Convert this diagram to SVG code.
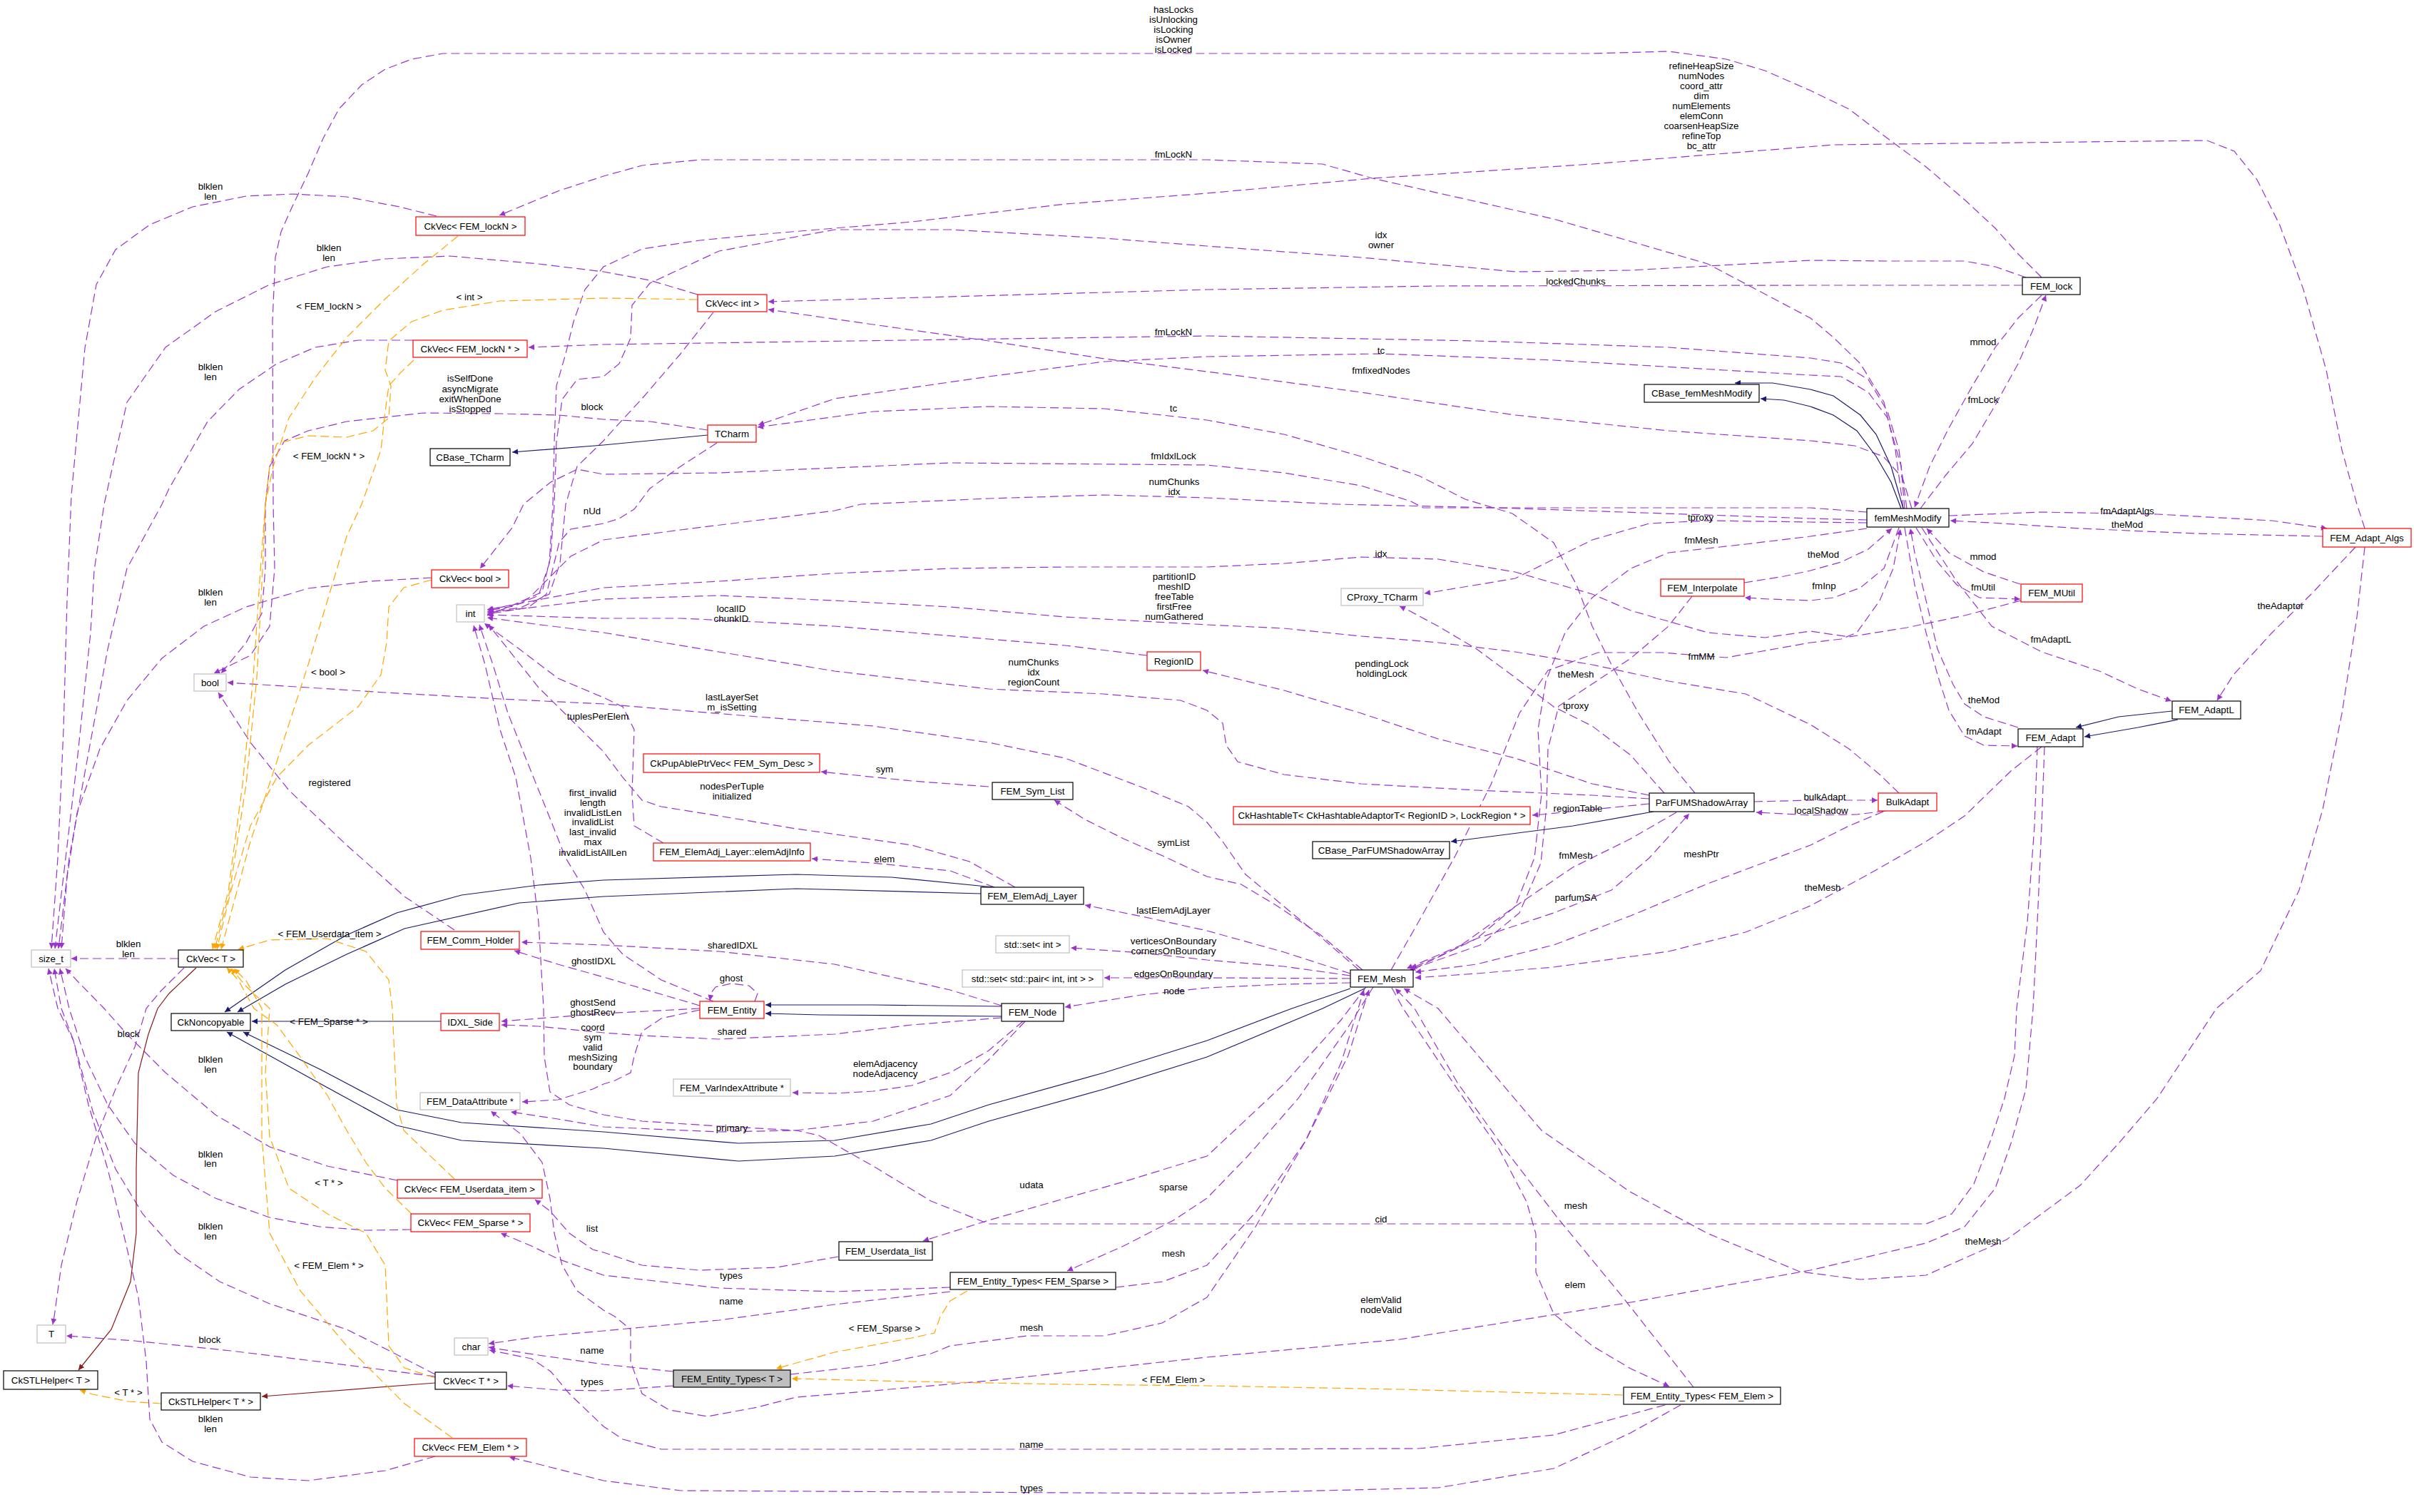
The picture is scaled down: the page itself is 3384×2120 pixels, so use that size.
<svg xmlns="http://www.w3.org/2000/svg" width="3384" height="2120" viewBox="0 0 3384 2120">
<style>
.e{fill:none;stroke:#9a32cd;stroke-width:1.2;stroke-dasharray:12,6;marker-end:url(#ap)}
.i{fill:none;stroke:#191970;stroke-width:1.2;marker-end:url(#ab)}
.t{fill:none;stroke:#ffa500;stroke-width:1.2;stroke-dasharray:12,6;marker-end:url(#ao)}
.r{fill:none;stroke:#8b1a1a;stroke-width:1.2;marker-end:url(#ar)}
text{font-family:"Liberation Sans",Arial,sans-serif;font-size:13.3px;fill:#000;text-anchor:middle}
.n rect{fill:#fff;stroke:#000;stroke-width:1.2}
.rd rect{stroke:#ff0000}
.gy rect{stroke:#bfbfbf}
.cur rect{fill:#bfbfbf}
</style>
<defs>
<marker id="ap" viewBox="0 0 10 10" refX="10" refY="5" markerWidth="12" markerHeight="8" markerUnits="userSpaceOnUse" orient="auto"><path d="M0,0L10,5L0,10z" fill="#9a32cd"/></marker>
<marker id="ab" viewBox="0 0 10 10" refX="10" refY="5" markerWidth="12" markerHeight="8" markerUnits="userSpaceOnUse" orient="auto"><path d="M0,0L10,5L0,10z" fill="#191970"/></marker>
<marker id="ao" viewBox="0 0 10 10" refX="10" refY="5" markerWidth="12" markerHeight="8" markerUnits="userSpaceOnUse" orient="auto"><path d="M0,0L10,5L0,10z" fill="#ffa500"/></marker>
<marker id="ar" viewBox="0 0 10 10" refX="10" refY="5" markerWidth="12" markerHeight="8" markerUnits="userSpaceOnUse" orient="auto"><path d="M0,0L10,5L0,10z" fill="#8b1a1a"/></marker>
</defs>
<rect width="3384" height="2120" fill="#fff"/>
<g id="edges">
<polyline class="e" points="2668,713 2657,631 2641,564 2608,510 2570,473 2538,446 2394,370 2178,307 1924,250 1854,230 1692,224 981,224 900,232 846,247 782,268 700,302"/>
<text x="1645" y="221">fmLockN</text>
<polyline class="e" points="3315,741 3304,707 3283,631 3261,519 3229,406 3196,316 3164,252 3132,212 3094,197 2570,203 2232,230 1924,250 1692,271 1494,286 1278,311 1062,329 981,337 900,349 846,374 820,406 804,451 793,496 780,541 777,620 775,707 770,790 755,835 720,850 684,856"/>
<text x="2385" y="97">refineHeapSize</text><text x="2385" y="111">numNodes</text><text x="2385" y="125">coord_attr</text><text x="2385" y="139">dim</text><text x="2385" y="153">numElements</text><text x="2385" y="167">elemConn</text><text x="2385" y="181">coarsenHeapSize</text><text x="2385" y="195">refineTop</text><text x="2385" y="209">bc_attr</text>
<polyline class="e" points="2862,389 2829,356 2797,320 2754,280 2700,234 2646,194 2592,153 2538,127 2474,99 2420,83 2339,72 2232,75 621,75 577,83 540,97 507,119 475,153 453,194 432,243 410,289 394,325 386,361 382,450 383,707 385,797 378,878 351,919 300,944"/>
<text x="1645" y="18">hasLocks</text><text x="1645" y="32">isUnlocking</text><text x="1645" y="46">isLocking</text><text x="1645" y="60">isOwner</text><text x="1645" y="74">isLocked</text>
<polyline class="e" points="612,303 560,290 486,276 410,272 345,275 270,290 210,315 162,350 135,399 119,488 100,695 94,842 89,1023 81,1203 72,1330"/>
<text x="295" y="266">blklen</text><text x="295" y="280">len</text>
<polyline class="e" points="978,413 911,393 846,381 755,370 631,359 540,363 459,374 378,399 302,437 232,487 178,564 146,707 132,800 127,887 108,1068 92,1203 77,1330"/>
<text x="461" y="352">blklen</text><text x="461" y="366">len</text>
<polyline class="e" points="579,477 502,477 442,487 388,510 335,546 291,591 237,685 227,707 178,797 151,910 130,1023 97,1203 82,1330"/>
<text x="295" y="519">blklen</text><text x="295" y="533">len</text>
<polyline class="e" points="605,810 518,815 432,825 345,851 286,878 227,923 178,982 140,1050 108,1140 94,1230 86,1330"/>
<text x="295" y="835">blklen</text><text x="295" y="849">len</text>
<polyline class="e" points="250,1344 100,1344"/>
<text x="180" y="1328">blklen</text><text x="180" y="1342">len</text>
<polyline class="e" points="557,1655 459,1635 378,1608 302,1563 232,1504 178,1450 146,1414 108,1375 92,1358"/>
<text x="295" y="1490">blklen</text><text x="295" y="1504">len</text>
<polyline class="e" points="576,1724 513,1725 448,1720 378,1707 302,1680 243,1648 189,1603 151,1549 119,1482 97,1414 84,1358"/>
<text x="295" y="1623">blklen</text><text x="295" y="1636">len</text>
<polyline class="e" points="610,1927 540,1891 486,1864 432,1846 378,1828 308,1797 248,1756 200,1702 162,1639 130,1558 103,1459 86,1414 76,1358"/>
<text x="295" y="1724">blklen</text><text x="295" y="1738">len</text>
<polyline class="e" points="610,2042 540,2062 432,2076 351,2071 270,2049 227,2022 210,1990 205,1909 194,1819 173,1729 151,1639 124,1549 103,1459 81,1414 68,1358"/>
<text x="295" y="1994">blklen</text><text x="295" y="2008">len</text>
<polyline class="e" points="258,1357 225,1390 205,1414 189,1468 162,1527 135,1594 108,1684 86,1774 76,1846 74,1857"/>
<text x="180" y="1454">block</text>
<polyline class="e" points="610,1930 486,1914 324,1894 189,1880 93,1873"/>
<text x="294" y="1883">block</text>
<polyline class="e" points="944,1943 846,1950 782,1949 711,1943"/>
<text x="830" y="1942">types</text>
<polyline class="e" points="944,1923 846,1913 755,1900 696,1891 685,1889"/>
<text x="830" y="1898">name</text>
<polyline class="e" points="1332,1811 1170,1829 1008,1851 846,1866 755,1874 685,1884"/>
<text x="1025" y="1829">name</text>
<polyline class="e" points="1332,1805 1170,1811 1008,1806 846,1788 782,1765 745,1747 702,1729"/>
<text x="1025" y="1793">types</text>
<polyline class="e" points="2334,1970 2178,2012 1989,2031 1692,2032 927,2032 873,2018 846,2000 798,1954 772,1923 745,1905 686,1893"/>
<text x="1446" y="2030">name</text>
<polyline class="e" points="2356,1970 2286,2009 2178,2059 2016,2086 1692,2094 954,2090 846,2076 755,2053 714,2043"/>
<text x="1446" y="2091">types</text>
<polyline class="e" points="1951,1385 1967,1414 2043,1527 2102,1612 2140,1685 2153,1730 2153,1784 2178,1842 2232,1887 2286,1919 2340,1944"/>
<text x="2208" y="1806">elem</text>
<polyline class="e" points="2374,1945 2275,1819 2183,1707 2107,1608 2043,1518 1983,1414 1956,1386"/>
<text x="2209" y="1695">mesh</text>
<polyline class="e" points="3315,767 3304,865 3283,1000 3256,1135 3223,1248 3169,1361 3107,1414 3024,1540 2970,1603 2916,1662 2813,1738 2700,1788 2608,1794 2523,1783 2393,1729 2285,1671 2161,1585 2016,1414 1968,1386"/>
<text x="2780" y="1745">theMesh</text>
<polyline class="e" points="2856,1047 2852,1158 2842,1293 2827,1414 2824,1480 2810,1540 2790,1600 2767,1660 2736,1702 2700,1716 1386,1716 1305,1684 1224,1635 1148,1592 1116,1585 1008,1579 900,1572 846,1563 798,1549 771,1531 763,1482 762,1414 755,1293 744,1203 723,1090 701,1023 680,932 664,877"/>
<text x="1936" y="1714">cid</text>
<polyline class="e" points="2866,1047 2862,1158 2856,1293 2850,1414 2840,1527 2819,1603 2797,1666 2754,1720 2700,1743 2538,1781 2286,1826 1962,1878 1692,1903 1386,1936 1224,1950 1116,1959 1062,1973 992,1986 938,1977 900,1954 884,1909 884,1864 862,1846 846,1837 809,1810 788,1774 777,1729 771,1680 760,1630 730,1590 688,1558"/>
<text x="1936" y="1827">elemValid</text><text x="1936" y="1841">nodeValid</text>
<polyline class="e" points="2673,713 2662,631 2646,577 2619,532 2581,509 2538,502 2339,487 2070,478 1692,471 846,483 741,487"/>
<text x="1645" y="470">fmLockN</text>
<polyline class="e" points="2835,400 2538,400 2016,401 1692,406 1077,423"/>
<text x="2209" y="399">lockedChunks</text>
<polyline class="e" points="2680,713 2667,670 2640,640 2600,625 2538,618 2340,604 2124,582 1908,550 1692,521 1548,503 1386,478 1224,455 1077,434"/>
<text x="1936" y="524">fmfixedNodes</text>
<polyline class="e" points="2840,389 2797,374 2754,366 2646,366 2538,365 2286,379 2124,381 1908,361 1692,345 1548,334 1332,322 1170,322 1008,352 911,397 886,428 884,474 868,510 846,528 809,532 788,560 780,620 777,707 772,780 760,830 720,848 683,855"/>
<text x="1936" y="334">idx</text><text x="1936" y="348">owner</text>
<polyline class="e" points="1000,438 954,496 900,559 862,600 846,618 809,654 793,707 785,790 770,833 730,852 683,858"/>
<text x="830" y="575">block</text>
<polyline class="e" points="992,603 911,591 846,588 783,582 702,580 594,579 486,591 432,604 399,618 378,654 372,707 372,797 367,860 345,901 310,944"/>
<text x="659" y="535">isSelfDone</text><text x="659" y="550">asyncMigrate</text><text x="659" y="564">exitWhenDone</text><text x="659" y="578">isStopped</text>
<polyline class="e" points="1005,621 954,654 911,685 889,714 868,727 846,734 800,742 784,760 775,797 766,833 740,852 683,861"/>
<text x="830" y="721">nUd</text>
<polyline class="e" points="2617,718 2538,712 1995,712 1978,703 1908,681 1800,663 1692,652 1332,649 1008,663 846,665 809,658 772,676 734,707 718,740 673,797"/>
<text x="1645" y="644">fmIdxlLock</text>
<polyline class="e" points="2617,729 2538,727 2100,712 1875,707 1692,698 1547,694 1386,699 1207,707 1170,716 954,743 846,757 800,780 780,800 740,840 683,863"/>
<text x="1646" y="680">numChunks</text><text x="1646" y="694">idx</text>
<polyline class="e" points="2670,713 2665,654 2646,586 2619,550 2581,528 2538,526 2178,505 1935,496 1692,500 1548,507 1386,528 1170,559 1063,596"/>
<text x="1936" y="496">tc</text>
<polyline class="e" points="2376,1112 2340,1068 2297,1000 2259,932 2232,878 2210,820 2178,761 2120,720 2054,700 1989,667 1908,640 1800,609 1692,589 1548,573 1386,570 1224,577 1062,599"/>
<text x="1645" y="577">tc</text>
<polyline class="e" points="2333,1112 2286,1059 2232,1018 2178,991 2124,950 2070,910 2016,878 1975,856 1962,850"/>
<text x="2209" y="994">tproxy</text>
<polyline class="e" points="2617,733 2538,732 2394,730 2312,734 2232,757 2178,784 2124,811 2016,829 1997,832"/>
<text x="2384" y="730">tproxy</text>
<polyline class="e" points="2617,741 2538,752 2447,763 2339,775 2286,797 2232,838 2194,887 2167,955 2156,1023 2161,1113 2151,1203 2124,1271 2070,1316 1972,1358"/>
<text x="2385" y="762">fmMesh</text>
<polyline class="e" points="2372,836 2339,878 2286,923 2232,959 2185,990 2170,1050 2168,1130 2160,1210 2130,1280 2075,1325 1976,1360"/>
<text x="2209" y="950">theMesh</text>
<polyline class="e" points="1950,1360 1990,1290 2040,1200 2090,1100 2130,1000 2170,940 2240,915 2330,915 2420,922 2538,901 2581,896 2603,887 2635,842 2654,797 2664,742"/>
<text x="2385" y="925">fmMM</text>
<polyline class="e" points="2350,1139 2286,1176 2205,1216 2124,1271 2043,1329 1978,1358"/>
<text x="2209" y="1204">fmMesh</text>
<polyline class="e" points="1983,1358 2070,1316 2178,1280 2259,1248 2312,1203 2368,1141"/>
<text x="2209" y="1263">parfumSA</text>
<polyline class="e" points="2640,1138 2592,1158 2538,1185 2394,1239 2286,1284 2178,1325 2070,1352 1984,1363"/>
<text x="2385" y="1202">meshPtr</text>
<polyline class="e" points="2862,1047 2819,1081 2754,1144 2700,1180 2619,1226 2538,1270 2447,1307 2339,1334 2178,1356 2070,1365 1984,1371"/>
<text x="2555" y="1249">theMesh</text>
<polyline class="e" points="2643,1137 2603,1142 2538,1143 2462,1139"/>
<text x="2553" y="1141">localShadow</text>
<polyline class="e" points="2459,1124 2538,1122 2632,1122"/>
<text x="2558" y="1122">bulkAdapt</text>
<polyline class="e" points="2662,1112 2635,1086 2592,1050 2538,1016 2447,973 2339,955 2232,932 2124,914 2016,901 1908,892 1800,881 1692,876 1493,865 1332,851 1170,842 1008,835 846,840 760,850 683,859"/>
<text x="1646" y="813">partitionID</text><text x="1646" y="827">meshID</text><text x="1646" y="841">freeTable</text><text x="1646" y="855">firstFree</text><text x="1646" y="869">numGathered</text>
<polyline class="e" points="2833,842 2754,863 2673,880 2592,893 2538,885 2474,894 2394,887 2286,856 2232,833 2124,802 2016,784 1908,781 1800,790 1692,795 1493,795 1332,797 1170,804 1008,815 846,824 760,840 683,855"/>
<text x="1936" y="781">idx</text>
<polyline class="e" points="2312,1115 2232,1099 2124,1063 2016,1036 1908,1000 1800,968 1686,940"/>
<text x="1937" y="935">pendingLock</text><text x="1937" y="949">holdingLock</text>
<polyline class="e" points="1608,919 1493,905 1386,896 1278,887 1170,878 1062,872 954,867 846,867 683,862"/>
<text x="1025" y="858">localID</text><text x="1025" y="872">chunkID</text>
<polyline class="e" points="2312,1120 2232,1115 2070,1108 1908,1099 1800,1086 1735,1068 1719,1045 1714,1014 1692,996 1655,982 1547,973 1386,966 1170,941 1008,914 846,887 750,875 683,866"/>
<text x="1449" y="933">numChunks</text><text x="1449" y="947">idx</text><text x="1449" y="961">regionCount</text>
<polyline class="e" points="2312,1127 2232,1135 2161,1142 2148,1143"/>
<text x="2212" y="1138">regionTable</text>
<polyline class="e" points="2445,817 2501,808 2538,800 2581,788 2619,770 2652,741"/>
<text x="2556" y="782">theMod</text>
<polyline class="e" points="2662,740 2641,797 2608,824 2570,838 2538,842 2480,840 2446,838"/>
<text x="2557" y="826">fmInp</text>
<polyline class="e" points="2832,819 2781,802 2732,775 2701,741"/>
<text x="2780" y="785">mmod</text>
<polyline class="e" points="2686,740 2716,788 2743,820 2775,838 2832,840"/>
<text x="2780" y="828">fmUtil</text>
<polyline class="e" points="2694,740 2743,815 2792,878 2862,914 2943,941 2997,966 3044,983"/>
<text x="2875" y="901">fmAdaptL</text>
<polyline class="e" points="2829,1020 2781,1005 2754,987 2738,960 2716,910 2700,842 2684,775 2678,741"/>
<text x="2781" y="986">theMod</text>
<polyline class="e" points="2670,740 2684,820 2700,887 2716,946 2732,996 2754,1032 2781,1045 2828,1046"/>
<text x="2781" y="1030">fmAdapt</text>
<polyline class="e" points="2732,723 2862,718 3024,721 3185,730 3262,741"/>
<text x="2982" y="721">fmAdaptAlgs</text>
<polyline class="e" points="3256,752 3078,748 2916,741 2808,734 2734,730"/>
<text x="2982" y="740">theMod</text>
<polyline class="e" points="3302,767 3240,833 3185,887 3131,946 3108,982"/>
<text x="3197" y="854">theAdaptor</text>
<polyline class="e" points="2862,414 2829,446 2797,487 2765,541 2732,600 2705,654 2684,711"/>
<text x="2780" y="484">mmod</text>
<polyline class="e" points="2692,713 2727,667 2765,622 2797,568 2829,510 2851,460 2868,414"/>
<text x="2780" y="565">fmLock</text>
<polyline class="e" points="1910,1360 1850,1310 1790,1270 1740,1240 1692,1229 1630,1200 1575,1176 1521,1149 1478,1122"/>
<text x="1645" y="1186">symList</text>
<polyline class="e" points="1893,1365 1800,1335 1692,1305 1601,1285 1521,1269"/>
<text x="1645" y="1281">lastElemAdjLayer</text>
<polyline class="e" points="1893,1368 1800,1355 1692,1346 1601,1336 1501,1329"/>
<text x="1645" y="1324">verticesOnBoundary</text><text x="1645" y="1338">cornersOnBoundary</text>
<polyline class="e" points="1893,1372 1692,1371 1548,1371"/>
<text x="1645" y="1370">edgesOnBoundary</text>
<polyline class="e" points="1893,1378 1800,1380 1692,1385 1600,1395 1493,1412"/>
<text x="1646" y="1394">node</text>
<polyline class="e" points="1915,1384 1880,1430 1800,1520 1692,1621 1575,1657 1494,1680 1386,1711 1294,1740"/>
<text x="1446" y="1666">udata</text>
<polyline class="e" points="1925,1384 1890,1440 1820,1540 1750,1620 1692,1680 1645,1711 1575,1747 1496,1782"/>
<text x="1645" y="1669">sparse</text>
<polyline class="e" points="1564,1805 1630,1797 1692,1774 1760,1700 1830,1600 1890,1480 1919,1388"/>
<text x="1645" y="1762">mesh</text>
<polyline class="e" points="1108,1927 1224,1914 1305,1898 1332,1887 1440,1873 1548,1873 1629,1855 1692,1819 1760,1720 1830,1600 1880,1490 1912,1388"/>
<text x="1446" y="1866">mesh</text>
<polyline class="e" points="1905,1360 1854,1316 1800,1271 1746,1226 1714,1180 1692,1153 1666,1131 1601,1104 1493,1063 1386,1041 1224,1018 1062,1005 954,996 846,987 701,980 540,971 432,964 319,957"/>
<text x="1026" y="982">lastLayerSet</text><text x="1026" y="996">m_isSetting</text>
<polyline class="e" points="1386,1103 1278,1095 1151,1082"/>
<text x="1240" y="1083">sym</text>
<polyline class="e" points="1394,1244 1332,1221 1224,1210 1138,1204"/>
<text x="1240" y="1209">elem</text>
<polyline class="e" points="1423,1244 1359,1208 1278,1185 1116,1162 1008,1144 927,1131 900,1122 873,1090 846,1054 755,964 685,876"/>
<text x="1026" y="1107">nodesPerTuple</text><text x="1026" y="1121">initialized</text>
<polyline class="e" points="930,1182 889,1158 886,1113 889,1023 873,991 846,978 782,951 728,910 679,874"/>
<text x="838" y="1009">tuplesPerElem</text>
<polyline class="e" points="1000,1404 927,1374 873,1338 846,1307 820,1248 793,1203 766,1135 739,1068 712,1000 691,932 672,876"/>
<text x="831" y="1116">first_invalid</text><text x="831" y="1130">length</text><text x="831" y="1144">invalidListLen</text><text x="831" y="1157">invalidList</text><text x="831" y="1171">last_invalid</text><text x="831" y="1185">max</text><text x="831" y="1200">invalidListAllLen</text>
<polyline class="e" points="637,1304 567,1257 486,1185 405,1108 351,1041 306,971"/>
<text x="462" y="1102">registered</text>
<polyline class="e" points="981,1410 930,1395 880,1380 846,1370 782,1352 721,1333"/>
<text x="832" y="1352">ghostIDXL</text>
<polyline class="e" points="1404,1410 1332,1388 1170,1352 1008,1334 846,1325 731,1321"/>
<text x="1027" y="1330">sharedIDXL</text>
<polyline class="e" points="1058,1404 1062,1393 1050,1382 1025,1379 1003,1384 997,1392 995,1403"/>
<text x="1025" y="1376">ghost</text>
<polyline class="e" points="981,1414 846,1421 703,1432"/>
<text x="831" y="1410">ghostSend</text><text x="831" y="1424">ghostRecv</text>
<polyline class="e" points="1404,1427 1278,1437 1170,1450 1008,1457 900,1452 846,1448 755,1439 703,1437"/>
<text x="1026" y="1451">shared</text>
<polyline class="e" points="981,1416 927,1428 900,1446 889,1481 884,1504 862,1515 846,1520 831,1527 782,1542 732,1545"/>
<text x="831" y="1445">coord</text><text x="831" y="1459">sym</text><text x="831" y="1473">valid</text><text x="831" y="1487">meshSizing</text><text x="831" y="1500">boundary</text>
<polyline class="e" points="1434,1432 1386,1473 1332,1504 1278,1522 1224,1530 1170,1533 1111,1532"/>
<text x="1241" y="1496">elemAdjacency</text><text x="1241" y="1510">nodeAdjacency</text>
<polyline class="e" points="1437,1432 1386,1486 1332,1536 1224,1572 1116,1585 1008,1587 846,1580 782,1569 716,1559"/>
<text x="1026" y="1586">primary</text>
<polyline class="e" points="1175,1762 1089,1777 981,1781 900,1774 846,1756 831,1752 798,1729 771,1698 750,1682"/>
<text x="830" y="1727">list</text>
<polyline class="i" points="992,610 846,624 718,634"/>
<polyline class="i" points="2668,713 2651,654 2630,609 2608,582 2570,555 2538,546 2485,537 2432,537"/>
<polyline class="i" points="2665,713 2651,676 2630,640 2603,604 2570,582 2538,570 2501,561 2468,559"/>
<polyline class="i" points="2318,1138 2205,1158 2034,1180"/>
<polyline class="i" points="3045,997 2970,1005 2910,1020"/>
<polyline class="i" points="3053,1009 2997,1020 2922,1033"/>
<polyline class="i" points="1393,1244 1250,1230 1116,1226 846,1234 755,1241 647,1255 556,1280 486,1311 400,1360 315,1419"/>
<polyline class="i" points="1375,1253 1116,1246 846,1257 728,1266 567,1302 486,1338 400,1380 333,1419"/>
<polyline class="i" points="1893,1386 1811,1414 1692,1459 1548,1504 1386,1549 1305,1576 1170,1599 1035,1603 846,1587 647,1574 556,1556 450,1500 341,1447"/>
<polyline class="i" points="1913,1386 1854,1414 1692,1482 1548,1527 1386,1572 1305,1599 1170,1621 1035,1628 846,1610 647,1599 556,1578 450,1520 318,1447"/>
<polyline class="i" points="618,1432 353,1432"/>
<polyline class="i" points="1404,1411 1224,1409 1073,1409"/>
<polyline class="i" points="1404,1425 1150,1423 1073,1421"/>
<polyline class="r" points="275,1357 237,1393 221,1414 208,1450 194,1504 191,1639 191,1729 183,1797 156,1864 110,1921"/>
<polyline class="r" points="610,1939 367,1958"/>
<polyline class="t" points="642,331 594,370 540,419 486,473 443,528 405,586 383,654 372,707 365,800 355,950 340,1100 320,1250 298,1331"/>
<text x="461" y="434">&lt; FEM_lockN &gt;</text>
<polyline class="t" points="978,420 846,418 701,422 621,435 577,451 545,478 540,519 548,541 545,586 523,604 486,613 432,611 388,622 378,654 372,707 368,800 360,950 345,1100 322,1250 301,1331"/>
<text x="658" y="421">&lt; int &gt;</text>
<polyline class="t" points="580,505 561,523 545,541 540,577 534,631 518,676 507,707 486,752 459,842 432,932 388,1068 351,1180 310,1331"/>
<text x="461" y="644">&lt; FEM_lockN * &gt;</text>
<polyline class="t" points="605,813 566,824 545,851 542,901 534,946 502,991 432,1045 388,1090 351,1158 324,1248 304,1331"/>
<text x="460" y="947">&lt; bool &gt;</text>
<polyline class="t" points="637,1653 594,1612 566,1585 556,1549 550,1414 545,1374 513,1334 459,1316 378,1318 334,1331"/>
<text x="462" y="1314">&lt; FEM_Userdata_item &gt;</text>
<polyline class="t" points="577,1702 540,1666 513,1630 486,1585 459,1536 421,1482 388,1437 356,1414 334,1374 318,1357"/>
<text x="461" y="1437">&lt; FEM_Sparse * &gt;</text>
<polyline class="t" points="610,1932 567,1918 545,1887 542,1819 540,1774 513,1729 459,1702 405,1666 378,1594 372,1504 378,1414 345,1383 324,1358"/>
<text x="461" y="1663">&lt; T * &gt;</text>
<polyline class="t" points="634,2016 567,1968 486,1887 421,1810 378,1729 367,1594 367,1459 367,1414 345,1375 328,1358"/>
<text x="461" y="1779">&lt; FEM_Elem * &gt;</text>
<polyline class="t" points="226,1968 180,1965 130,1955 112,1949"/>
<text x="180" y="1957">&lt; T * &gt;</text>
<polyline class="t" points="1356,1810 1332,1824 1318,1846 1310,1869 1278,1876 1170,1896 1088,1919"/>
<text x="1240" y="1867">&lt; FEM_Sparse &gt;</text>
<polyline class="t" points="2275,1956 2151,1953 1962,1948 1692,1943 1494,1941 1278,1937 1110,1933"/>
<text x="1645" y="1939">&lt; FEM_Elem &gt;</text>
</g>
<g id="n_CkVec_FEM_lockN" class="n rd"><rect x="583" y="304" width="153" height="26"/><text x="659.5" y="321.5">CkVec&lt; FEM_lockN &gt;</text></g>
<g id="n_CkVec_FEM_lockN_ptr" class="n rd"><rect x="579" y="477" width="160" height="24"/><text x="659" y="493.5">CkVec&lt; FEM_lockN * &gt;</text></g>
<g id="n_CBase_TCharm" class="n"><rect x="603" y="629" width="112" height="24"/><text x="659" y="645.5">CBase_TCharm</text></g>
<g id="n_CkVec_int" class="n rd"><rect x="978" y="413" width="97" height="24"/><text x="1026.5" y="429.5">CkVec&lt; int &gt;</text></g>
<g id="n_TCharm" class="n rd"><rect x="992" y="596" width="68" height="24"/><text x="1026" y="612.5">TCharm</text></g>
<g id="n_CBase_femMeshModify" class="n"><rect x="2305" y="539" width="161" height="25"/><text x="2385.5" y="556">CBase_femMeshModify</text></g>
<g id="n_FEM_lock" class="n"><rect x="2835" y="389" width="81" height="24"/><text x="2875.5" y="405.5">FEM_lock</text></g>
<g id="n_CkVec_bool" class="n rd"><rect x="605" y="799" width="108" height="25"/><text x="659" y="816">CkVec&lt; bool &gt;</text></g>
<g id="n_int" class="n gy"><rect x="640" y="848" width="39" height="24"/><text x="659.5" y="864.5">int</text></g>
<g id="n_bool" class="n gy"><rect x="272" y="945" width="45" height="24"/><text x="294.5" y="961.5">bool</text></g>
<g id="n_size_t" class="n gy"><rect x="44" y="1332" width="55" height="24"/><text x="71.5" y="1348.5">size_t</text></g>
<g id="n_CkVec_T" class="n"><rect x="250" y="1332" width="91" height="24"/><text x="295.5" y="1348.5">CkVec&lt; T &gt;</text></g>
<g id="n_FEM_Comm_Holder" class="n rd"><rect x="590" y="1306" width="138" height="25"/><text x="659" y="1323">FEM_Comm_Holder</text></g>
<g id="n_RegionID" class="n rd"><rect x="1608" y="914" width="75" height="26"/><text x="1645.5" y="931.5">RegionID</text></g>
<g id="n_CkPupAblePtrVec" class="n rd"><rect x="902" y="1057" width="247" height="26"/><text x="1025.5" y="1074.5">CkPupAblePtrVec&lt; FEM_Sym_Desc &gt;</text></g>
<g id="n_FEM_Sym_List" class="n"><rect x="1391" y="1097" width="113" height="24"/><text x="1447.5" y="1113.5">FEM_Sym_List</text></g>
<g id="n_elemAdjInfo" class="n rd"><rect x="916" y="1182" width="220" height="25"/><text x="1026" y="1199">FEM_ElemAdj_Layer::elemAdjInfo</text></g>
<g id="n_FEM_ElemAdj_Layer" class="n"><rect x="1375" y="1244" width="144" height="24"/><text x="1447" y="1260.5">FEM_ElemAdj_Layer</text></g>
<g id="n_set_int" class="n gy"><rect x="1396" y="1312" width="103" height="24"/><text x="1447.5" y="1328.5">std::set&lt; int &gt;</text></g>
<g id="n_set_pair" class="n gy"><rect x="1349" y="1360" width="197" height="24"/><text x="1447.5" y="1376.5">std::set&lt; std::pair&lt; int, int &gt; &gt;</text></g>
<g id="n_FEM_Entity" class="n rd"><rect x="981" y="1404" width="90" height="24"/><text x="1026" y="1420.5">FEM_Entity</text></g>
<g id="n_FEM_Node" class="n"><rect x="1404" y="1407" width="87" height="25"/><text x="1447.5" y="1424">FEM_Node</text></g>
<g id="n_CProxy_TCharm" class="n gy"><rect x="1880" y="825" width="115" height="24"/><text x="1937.5" y="841.5">CProxy_TCharm</text></g>
<g id="n_FEM_Interpolate" class="n rd"><rect x="2328" y="812" width="117" height="24"/><text x="2386.5" y="828.5">FEM_Interpolate</text></g>
<g id="n_ParFUMShadowArray" class="n"><rect x="2312" y="1112" width="147" height="26"/><text x="2385.5" y="1129.5">ParFUMShadowArray</text></g>
<g id="n_CkHashtableT" class="n rd"><rect x="1729" y="1131" width="416" height="25"/><text x="1937" y="1148">CkHashtableT&lt; CkHashtableAdaptorT&lt; RegionID &gt;, LockRegion * &gt;</text></g>
<g id="n_CBase_ParFUMShadowArray" class="n"><rect x="1840" y="1180" width="192" height="24"/><text x="1936" y="1196.5">CBase_ParFUMShadowArray</text></g>
<g id="n_FEM_Mesh" class="n"><rect x="1893" y="1360" width="88" height="24"/><text x="1937" y="1376.5">FEM_Mesh</text></g>
<g id="n_femMeshModify" class="n"><rect x="2617" y="713" width="115" height="26"/><text x="2674.5" y="730.5">femMeshModify</text></g>
<g id="n_FEM_Adapt_Algs" class="n rd"><rect x="3256" y="741" width="124" height="26"/><text x="3318" y="758.5">FEM_Adapt_Algs</text></g>
<g id="n_FEM_MUtil" class="n rd"><rect x="2833" y="819" width="86" height="25"/><text x="2876" y="836">FEM_MUtil</text></g>
<g id="n_FEM_AdaptL" class="n"><rect x="3045" y="983" width="96" height="25"/><text x="3093" y="1000">FEM_AdaptL</text></g>
<g id="n_FEM_Adapt" class="n"><rect x="2829" y="1022" width="91" height="25"/><text x="2874.5" y="1039">FEM_Adapt</text></g>
<g id="n_BulkAdapt" class="n rd"><rect x="2633" y="1112" width="82" height="25"/><text x="2674" y="1129">BulkAdapt</text></g>
<g id="n_CkNoncopyable" class="n"><rect x="240" y="1421" width="111" height="24"/><text x="295.5" y="1437.5">CkNoncopyable</text></g>
<g id="n_IDXL_Side" class="n rd"><rect x="618" y="1421" width="82" height="24"/><text x="659" y="1437.5">IDXL_Side</text></g>
<g id="n_FEM_DataAttribute" class="n gy"><rect x="589" y="1532" width="140" height="24"/><text x="659" y="1548.5">FEM_DataAttribute *</text></g>
<g id="n_CkVec_FEM_Userdata_item" class="n rd"><rect x="557" y="1654" width="203" height="26"/><text x="658.5" y="1671.5">CkVec&lt; FEM_Userdata_item &gt;</text></g>
<g id="n_CkVec_FEM_Sparse_ptr" class="n rd"><rect x="576" y="1702" width="167" height="25"/><text x="659.5" y="1719">CkVec&lt; FEM_Sparse * &gt;</text></g>
<g id="n_T" class="n gy"><rect x="52" y="1858" width="40" height="25"/><text x="72" y="1875">T</text></g>
<g id="n_char" class="n gy"><rect x="637" y="1876" width="47" height="24"/><text x="660.5" y="1892.5">char</text></g>
<g id="n_CkSTLHelper_T" class="n"><rect x="5" y="1922" width="132" height="26"/><text x="71" y="1939.5">CkSTLHelper&lt; T &gt;</text></g>
<g id="n_CkVec_T_ptr" class="n"><rect x="610" y="1924" width="100" height="24"/><text x="660" y="1940.5">CkVec&lt; T * &gt;</text></g>
<g id="n_CkSTLHelper_T_ptr" class="n"><rect x="226" y="1953" width="139" height="24"/><text x="295.5" y="1969.5">CkSTLHelper&lt; T * &gt;</text></g>
<g id="n_CkVec_FEM_Elem_ptr" class="n rd"><rect x="581" y="2017" width="157" height="25"/><text x="659.5" y="2034">CkVec&lt; FEM_Elem * &gt;</text></g>
<g id="n_FEM_VarIndexAttribute" class="n gy"><rect x="944" y="1513" width="164" height="24"/><text x="1026" y="1529.5">FEM_VarIndexAttribute *</text></g>
<g id="n_FEM_Userdata_list" class="n"><rect x="1176" y="1741" width="131" height="26"/><text x="1241.5" y="1758.5">FEM_Userdata_list</text></g>
<g id="n_FEM_Entity_Types_FEM_Sparse" class="n"><rect x="1332" y="1784" width="232" height="24"/><text x="1448" y="1800.5">FEM_Entity_Types&lt; FEM_Sparse &gt;</text></g>
<g id="n_FEM_Entity_Types_T" class="n cur"><rect x="944" y="1921" width="164" height="24"/><text x="1026" y="1937.5">FEM_Entity_Types&lt; T &gt;</text></g>
<g id="n_FEM_Entity_Types_FEM_Elem" class="n"><rect x="2276" y="1945" width="220" height="24"/><text x="2386" y="1961.5">FEM_Entity_Types&lt; FEM_Elem &gt;</text></g>
</svg>
